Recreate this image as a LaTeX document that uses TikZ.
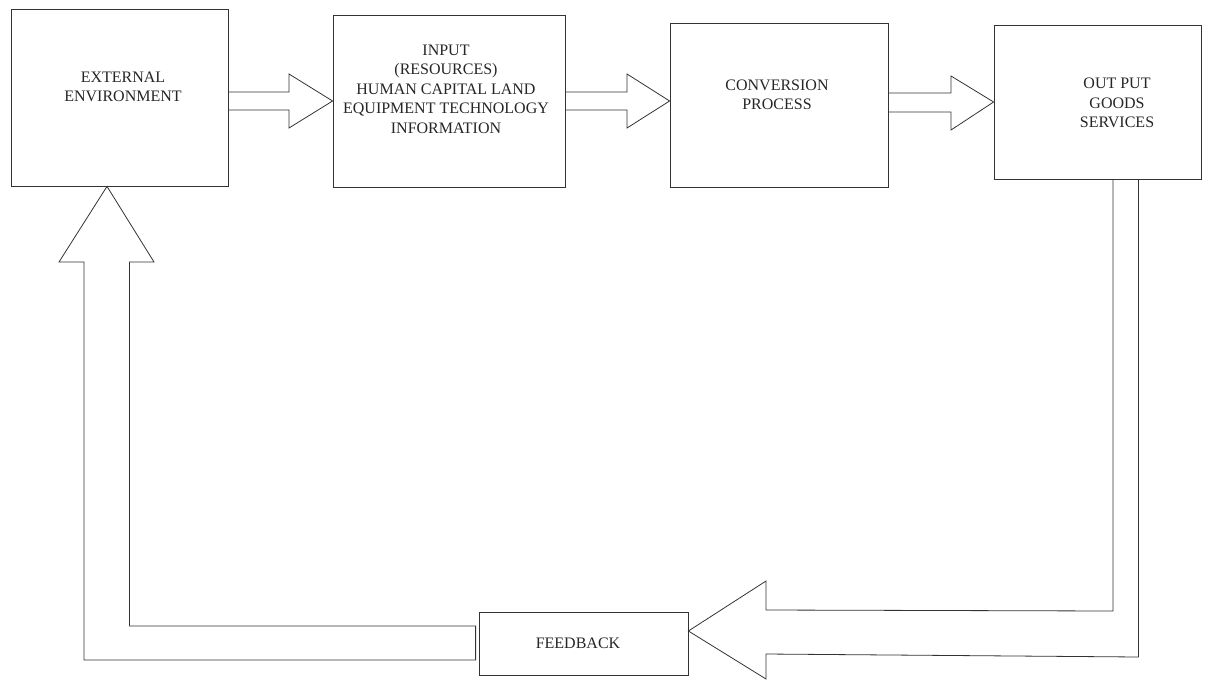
\documentclass[tikz,border=0pt]{standalone}
\usepackage{fontspec}
\setmainfont{Liberation Serif}
\usetikzlibrary{calc}
\tikzset{
  stagebox/.style={draw=black!80, line width=0.8pt, fill=white, inner sep=0pt},
  stagetext/.style={text=black!85, align=center, inner sep=0pt,
    font=\fontsize{16}{19.5}\selectfont},
  blockarrow/.style={draw=black!80, line width=0.8pt, line join=miter},
}
\begin{document}
\begin{tikzpicture}[x=1pt,y=-1pt]
\useasboundingbox (0,0) rectangle (1209,680);

% process boxes
\node[stagebox, minimum width=217, minimum height=177] (ext) at (119.5,97.5) {};
\node[stagebox, minimum width=232, minimum height=172] (inp) at (449,101) {};
\node[stagebox, minimum width=218, minimum height=164] (conv) at (779,105) {};
\node[stagebox, minimum width=207, minimum height=154] (out) at (1097.5,102) {};
\node[stagebox, minimum width=209, minimum height=63] (fb) at (583.5,643.5) {};

% box labels
\node[stagetext] (extT) at (123,87) {EXTERNAL\\ENVIRONMENT};
\node[stagetext] (inpT) at (446,89) {INPUT\\(RESOURCES)\\HUMAN CAPITAL LAND\\EQUIPMENT TECHNOLOGY\\INFORMATION};
\node[stagetext] (convT) at (777,95) {CONVERSION\\PROCESS};
\node[stagetext] (outT) at (1117,103) {OUT PUT\\GOODS\\SERVICES};
\node[stagetext] (fbT) at (578,643) {FEEDBACK};

% environment -> input
\draw[blockarrow] (ext.east |- 0,92) -- (289,92) -- (289,74) -- (inp.west |- 0,101)
  -- (289,128) -- (289,110) -- (ext.east |- 0,110);

% input -> conversion
\draw[blockarrow] (inp.east |- 0,92) -- (627,92) -- (627,74) -- (conv.west |- 0,101)
  -- (627,128) -- (627,110) -- (inp.east |- 0,110) -- cycle;

% conversion -> output
\draw[blockarrow] (conv.east |- 0,93) -- (951,93) -- (951,76) -- (out.west |- 0,102)
  -- (951,130) -- (951,112) -- (conv.east |- 0,112) -- cycle;

% output -> feedback
\draw[blockarrow] (1113,0 |- out.south) -- (1113,611) -- (766,610) -- (766,581)
  -- (fb.east |- 0,631) -- (766,679) -- (766,654) -- (1138.5,657)
  -- (1138.5,0 |- out.south);

% feedback -> environment
\coordinate (fbBack) at ($(fb.west)+(-3,0)$);
\draw[blockarrow] (fbBack |- 0,626) -- (129.5,626) -- (129.5,262) -- (154,262)
  -- (107,0 |- ext.south) -- (59,262) -- (84,262) -- (84,660)
  -- (fbBack |- 0,660) -- cycle;
\end{tikzpicture}
\end{document}
